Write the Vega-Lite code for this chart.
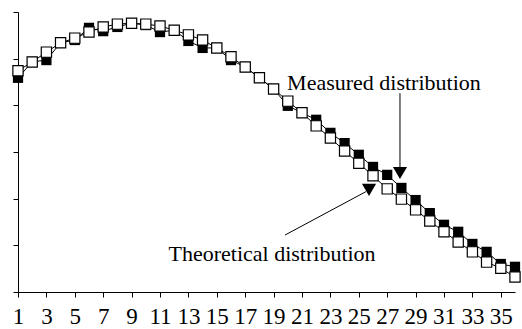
{
  "$schema": "https://vega.github.io/schema/vega-lite/v6.json",
  "width": 497,
  "height": 280,
  "autosize": {"type": "none"},
  "padding": {"left": 18, "top": 12, "right": 7, "bottom": 37},
  "background": "white",
  "config": {
    "view": {"stroke": null},
    "font": "Liberation Serif",
    "axis": {"grid": false, "domainColor": "#000", "tickColor": "#000", "domainWidth": 1, "tickWidth": 1, "labelColor": "#000", "labelFont": "Liberation Serif"}
  },
  "datasets": {
    "curves": [
      {"x": 1, "m": 4.59, "t": 4.74},
      {"x": 2, "m": 4.93, "t": 4.93},
      {"x": 3, "m": 4.97, "t": 5.14},
      {"x": 4, "m": 5.34, "t": 5.34},
      {"x": 5, "m": 5.40, "t": 5.44},
      {"x": 6, "m": 5.66, "t": 5.57},
      {"x": 7, "m": 5.59, "t": 5.68},
      {"x": 8, "m": 5.68, "t": 5.74},
      {"x": 9, "m": 5.76, "t": 5.76},
      {"x": 10, "m": 5.72, "t": 5.74},
      {"x": 11, "m": 5.57, "t": 5.70},
      {"x": 12, "m": 5.61, "t": 5.61},
      {"x": 13, "m": 5.38, "t": 5.51},
      {"x": 14, "m": 5.23, "t": 5.40},
      {"x": 15, "m": 5.23, "t": 5.23},
      {"x": 16, "m": 4.97, "t": 5.04},
      {"x": 17, "m": 4.82, "t": 4.82},
      {"x": 18, "m": 4.59, "t": 4.59},
      {"x": 19, "m": 4.35, "t": 4.35},
      {"x": 20, "m": 3.99, "t": 4.09},
      {"x": 21, "m": 3.84, "t": 3.84},
      {"x": 22, "m": 3.69, "t": 3.56},
      {"x": 23, "m": 3.41, "t": 3.30},
      {"x": 24, "m": 3.19, "t": 3.02},
      {"x": 25, "m": 2.94, "t": 2.76},
      {"x": 26, "m": 2.68, "t": 2.49},
      {"x": 27, "m": 2.51, "t": 2.21},
      {"x": 28, "m": 2.23, "t": 1.99},
      {"x": 29, "m": 1.97, "t": 1.76},
      {"x": 30, "m": 1.69, "t": 1.52},
      {"x": 31, "m": 1.44, "t": 1.29},
      {"x": 32, "m": 1.29, "t": 1.07},
      {"x": 33, "m": 1.03, "t": 0.86},
      {"x": 34, "m": 0.86, "t": 0.64},
      {"x": 35, "m": 0.60, "t": 0.51},
      {"x": 36, "m": 0.54, "t": 0.32}
    ],
    "labels": [
      {"x": 26.77, "y": 4.48, "text": "Measured distribution"},
      {"x": 18.89, "y": 0.81, "text": "Theoretical distribution"}
    ],
    "arrows": [
      {"x": 27.9, "y": 4.26, "x2": 27.9, "y2": 2.6},
      {"x": 19.8, "y": 1.22, "x2": 25.5, "y2": 2.15}
    ],
    "heads": [
      {"x": 27.9, "y": 2.55},
      {"x": 25.72, "y": 2.19}
    ]
  },
  "encoding": {
    "x": {"field": "x", "type": "quantitative", "scale": {"domain": [1, 36], "nice": false, "zero": false},
      "axis": {"title": null, "values": [1,3,5,7,9,11,13,15,17,19,21,23,25,27,29,31,33,35], "tickSize": 5, "labelFontSize": 23, "labelPadding": 8, "labelFlush": false, "labelOverlap": false, "labelBound": false}}
  },
  "layer": [
    {
      "data": {"name": "curves"},
      "mark": {"type": "line", "color": "#000", "strokeWidth": 1},
      "encoding": {
        "y": {"field": "m", "type": "quantitative", "scale": {"domain": [0, 6], "nice": false},
          "axis": {"title": null, "values": [0,1,2,3,4,5,6], "labels": false, "tickSize": 5}}
      }
    },
    {
      "data": {"name": "curves"},
      "mark": {"type": "point", "shape": "square", "filled": true, "color": "#000", "size": 105, "opacity": 1},
      "encoding": {
        "y": {"field": "m", "type": "quantitative"}
      }
    },
    {
      "data": {"name": "curves"},
      "mark": {"type": "line", "color": "#000", "strokeWidth": 1},
      "encoding": {
        "y": {"field": "t", "type": "quantitative"}
      }
    },
    {
      "data": {"name": "curves"},
      "mark": {"type": "point", "shape": "square", "filled": true, "fill": "#fff", "stroke": "#000", "strokeWidth": 1.2, "size": 105, "opacity": 1},
      "encoding": {
        "y": {"field": "t", "type": "quantitative"}
      }
    },
    {
      "data": {"name": "arrows"},
      "mark": {"type": "rule", "color": "#000", "strokeWidth": 1},
      "encoding": {
        "y": {"field": "y", "type": "quantitative"},
        "x2": {"field": "x2"},
        "y2": {"field": "y2"}
      }
    },
    {
      "data": {"name": "heads"},
      "mark": {"type": "point", "shape": "triangle-down", "filled": true, "color": "#000", "size": 200, "opacity": 1},
      "encoding": {
        "y": {"field": "y", "type": "quantitative"}
      }
    },
    {
      "data": {"name": "labels"},
      "mark": {"type": "text", "font": "Liberation Serif", "fontSize": 22, "color": "#000", "align": "center", "baseline": "middle"},
      "encoding": {
        "y": {"field": "y", "type": "quantitative"},
        "text": {"field": "text"}
      }
    }
  ]
}
